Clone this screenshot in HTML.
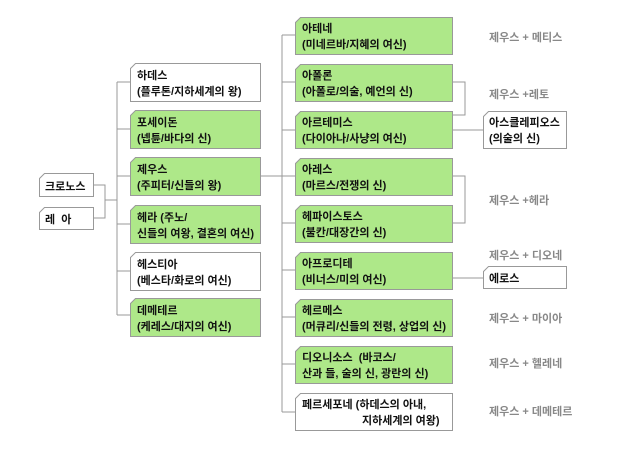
<!DOCTYPE html><html><head><meta charset="utf-8"><style>
body{margin:0;background:#fff}
text{font-family:"Liberation Sans","Noto Sans CJK KR","NanumGothic",sans-serif;font-size:11px;font-weight:bold;fill:#111}
.g{fill:#888;font-weight:bold}
</style></head><body>
<svg width="620" height="447" viewBox="0 0 620 447">
<g stroke="#999" stroke-width="1" fill="none">
<path d="M93 185H105V218H93M105 200H117M117 82V315M117 82H130M117 129H130M117 176H130M117 224H130M117 271H130M117 315H130"/>
<path d="M260 176H282M282 35V412M282 35H295M282 82H295M282 130H295M282 176H295M282 223H295M282 270H295M282 317H295M282 364H295M282 412H295"/>
<path d="M452 82H465V115H452M452 130H483M452 176H465V223H452M452 278H483"/>
</g>
<g stroke="#999" stroke-width="1">
<polygon fill="#fff" points="44.5,173.5 93.5,173.5 93.5,196.5 39.5,196.5 39.5,178.5"/>
<polygon fill="#fff" points="44.5,207.5 93.5,207.5 93.5,229.5 39.5,229.5 39.5,212.5"/>
<polygon fill="#fff" points="135.5,63.5 260.5,63.5 260.5,101.5 130.5,101.5 130.5,68.5"/>
<polygon fill="#aee889" points="135.5,110.5 260.5,110.5 260.5,148.5 130.5,148.5 130.5,115.5"/>
<polygon fill="#aee889" points="135.5,157.5 260.5,157.5 260.5,195.5 130.5,195.5 130.5,162.5"/>
<polygon fill="#aee889" points="135.5,205.5 260.5,205.5 260.5,243.5 130.5,243.5 130.5,210.5"/>
<polygon fill="#fff" points="135.5,252.5 260.5,252.5 260.5,290.5 130.5,290.5 130.5,257.5"/>
<polygon fill="#aee889" points="135.5,298.5 260.5,298.5 260.5,336.5 130.5,336.5 130.5,303.5"/>
<polygon fill="#aee889" points="300.5,17.5 452.5,17.5 452.5,54.5 295.5,54.5 295.5,22.5"/>
<polygon fill="#aee889" points="300.5,64.5 452.5,64.5 452.5,101.5 295.5,101.5 295.5,69.5"/>
<polygon fill="#aee889" points="300.5,111.5 452.5,111.5 452.5,148.5 295.5,148.5 295.5,116.5"/>
<polygon fill="#aee889" points="300.5,158.5 452.5,158.5 452.5,195.5 295.5,195.5 295.5,163.5"/>
<polygon fill="#aee889" points="300.5,205.5 452.5,205.5 452.5,242.5 295.5,242.5 295.5,210.5"/>
<polygon fill="#aee889" points="300.5,252.5 452.5,252.5 452.5,289.5 295.5,289.5 295.5,257.5"/>
<polygon fill="#aee889" points="300.5,299.5 452.5,299.5 452.5,336.5 295.5,336.5 295.5,304.5"/>
<polygon fill="#aee889" points="300.5,346.5 452.5,346.5 452.5,383.5 295.5,383.5 295.5,351.5"/>
<polygon fill="#fff" points="300.5,393.5 452.5,393.5 452.5,430.5 295.5,430.5 295.5,398.5"/>
<polygon fill="#fff" points="488.5,111.5 566.5,111.5 566.5,148.5 483.5,148.5 483.5,116.5"/>
<polygon fill="#fff" points="488.5,266.5 566.5,266.5 566.5,288.5 483.5,288.5 483.5,271.5"/>
</g>
<text x="45" y="190">크로노스</text>
<text x="45" y="223" xml:space="preserve">레  아</text>
<text x="137" y="79">하데스</text><text x="137" y="95">(플루톤/지하세계의 왕)</text>
<text x="137" y="126">포세이돈</text><text x="137" y="142">(넵튠/바다의 신)</text>
<text x="137" y="173">제우스</text><text x="137" y="189">(주피터/신들의 왕)</text>
<text x="137" y="221">헤라 (주노/</text><text x="137" y="237">신들의 여왕, 결혼의 여신)</text>
<text x="137" y="268">헤스티아</text><text x="137" y="284">(베스타/화로의 여신)</text>
<text x="137" y="314">데메테르</text><text x="137" y="330">(케레스/대지의 여신)</text>
<text x="302" y="32">아테네</text><text x="302" y="48">(미네르바/지혜의 여신)</text>
<text x="302" y="79">아폴론</text><text x="302" y="95">(아폴로/의술, 예언의 신)</text>
<text x="302" y="126">아르테미스</text><text x="302" y="142">(다이아나/사냥의 여신)</text>
<text x="302" y="173">아레스</text><text x="302" y="189">(마르스/전쟁의 신)</text>
<text x="302" y="220">헤파이스토스</text><text x="302" y="236">(불칸/대장간의 신)</text>
<text x="302" y="267">아프로디테</text><text x="302" y="283">(비너스/미의 여신)</text>
<text x="302" y="314">헤르메스</text><text x="302" y="330">(머큐리/신들의 전령, 상업의 신)</text>
<text x="302" y="361" xml:space="preserve">디오니소스  (바코스/</text><text x="302" y="377">산과 들, 술의 신, 광란의 신)</text>
<text x="302" y="408">페르세포네 (하데스의 아내,</text><text x="362" y="424">지하세계의 여왕)</text>
<text x="489" y="126">아스클레피오스</text><text x="489" y="142">(의술의 신)</text>
<text x="489" y="282">에로스</text>
<text class="g" x="489" y="41">제우스 + 메티스</text>
<text class="g" x="489" y="98">제우스 +레토</text>
<text class="g" x="489" y="204">제우스 +헤라</text>
<text class="g" x="489" y="259">제우스 + 디오네</text>
<text class="g" x="489" y="322">제우스 + 마이아</text>
<text class="g" x="489" y="367">제우스 + 헬레네</text>
<text class="g" x="489" y="415">제우스 + 데메테르</text>
</svg>
</body></html>
